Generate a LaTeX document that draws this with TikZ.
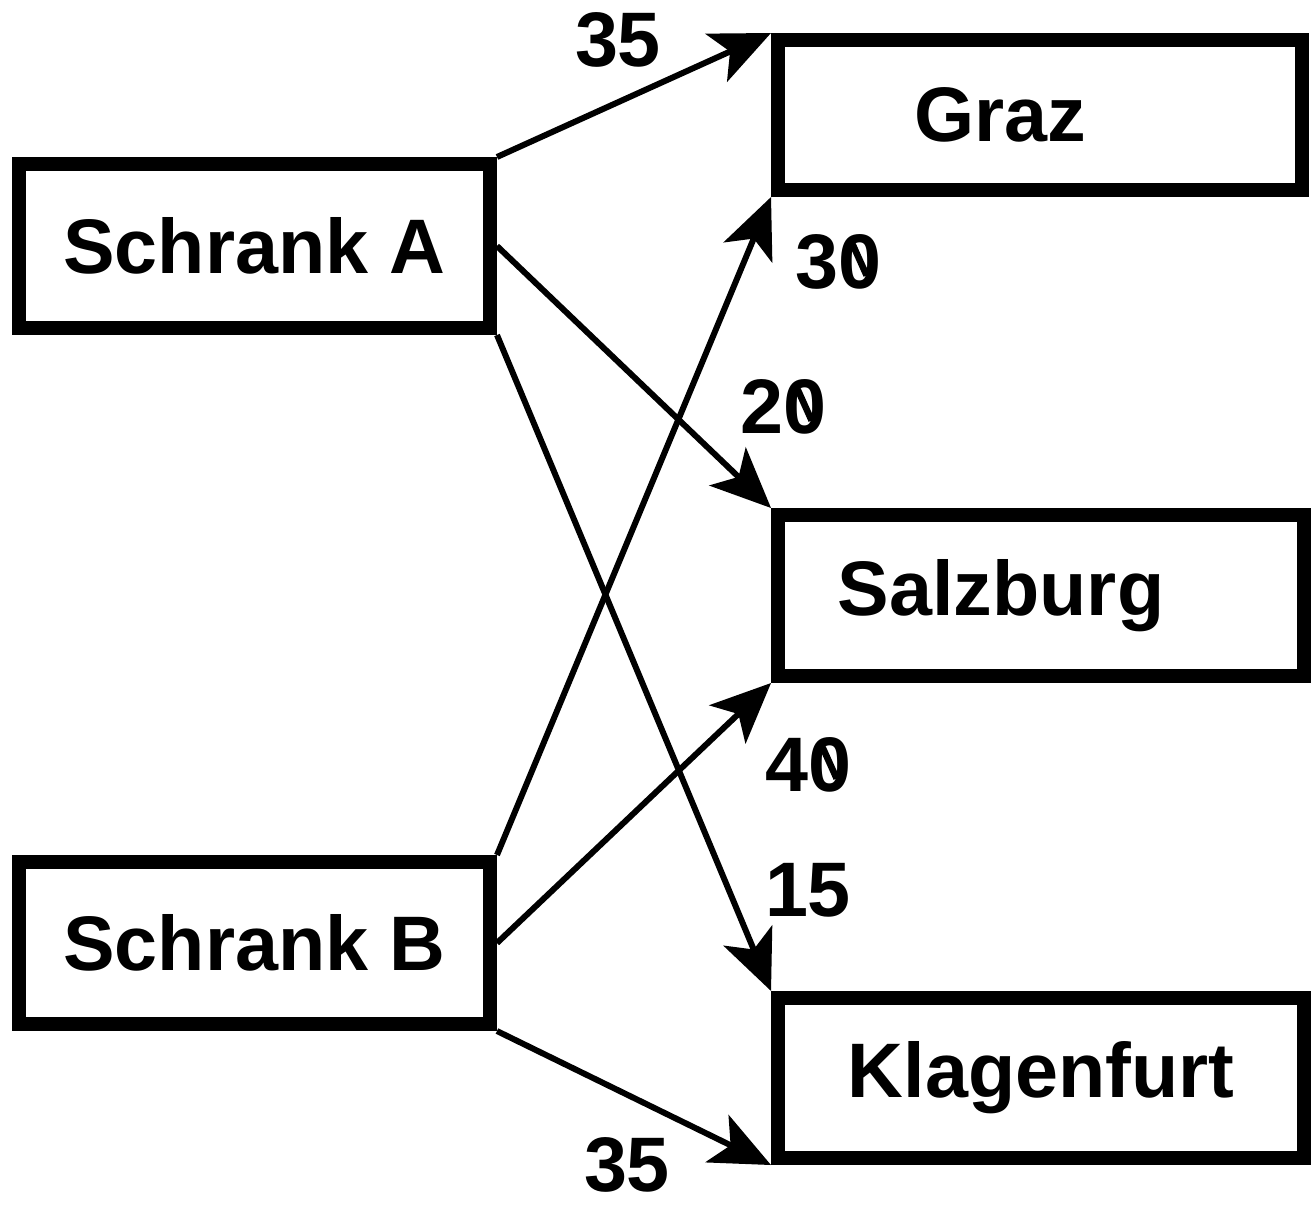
\documentclass[tikz,border=0pt]{standalone}
\usepackage{fontspec}
\setmainfont{Liberation Sans}
\usetikzlibrary{arrows.meta}
% zero with a stroke through its counter
\newcommand{\slzero}{\tikz[overlay, x=1em, y=1em]\draw[line width=0.085em] (0.19,0.57) -- (0.37,0.17);0}
\tikzset{
  box/.style={draw, line width=8pt, minimum height=3.2cm, font=\bfseries\fontsize{44}{50}\selectfont},
  flow/.style={line width=3.4pt, -{Stealth[length=1.2cm, width=1.05cm, inset=0.3cm]}},
  num/.style={font=\bfseries\fontsize{44}{50}\selectfont}
}
\begin{document}
\begin{tikzpicture}[x=0.02cm, y=-0.02cm]
    \useasboundingbox (0,0) rectangle (1315,1208);

    % Sources
    \node[box, minimum width=9.42cm, minimum height=3.28cm] (schrankA) at (254.5,246) {Schrank A};
    \node[box, minimum width=9.42cm, minimum height=3.24cm] (schrankB) at (254.5,943) {Schrank B};

    % Destinations
    \node[box, minimum width=10.48cm, minimum height=3.0cm] (graz) at (1040,115) {Graz\rule{1.6cm}{0pt}};
    \node[box, minimum width=10.52cm, minimum height=3.22cm] (salzburg) at (1041,595.5) {Salzburg\rule{1.6cm}{0pt}};
    \node[box, minimum width=10.52cm, minimum height=3.2cm] (klagenfurt) at (1041,1078) {Klagenfurt};

    % Routes
    \draw[flow] (schrankA.north east) -- (graz.north west);
    \draw[flow] (schrankA.east) -- (salzburg.north west);
    \draw[flow] (schrankA.south east) -- (klagenfurt.north west);
    \draw[flow] (schrankB.north east) -- (graz.south west);
    \draw[flow] (schrankB.east) -- (salzburg.south west);
    \draw[flow] (schrankB.south east) -- (klagenfurt.south west);

    % Costs
    \node[num] (cAG) at (618,40) {35};
    \node[num] (cBG) at (838,262) {3\slzero};
    \node[num] (cAS) at (783,407) {2\slzero};
    \node[num] (cBS) at (808,765) {4\slzero};
    \node[num] (cAK) at (808,890) {15};
    \node[num] (cBK) at (627,1165) {35};
\end{tikzpicture}
\end{document}
